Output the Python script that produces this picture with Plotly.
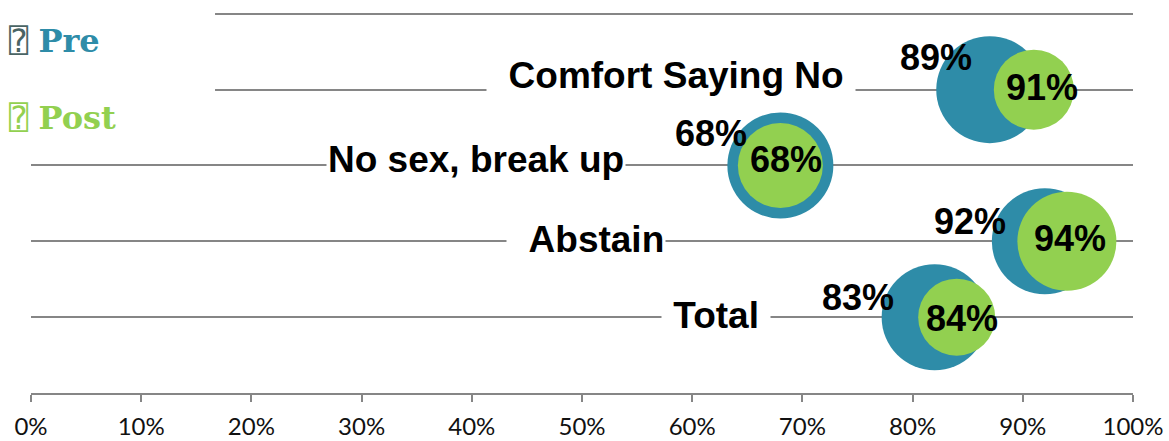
import plotly.graph_objects as go

# ---- data ----
categories = ["Comfort Saying No", "No sex, break up", "Abstain", "Total"]
cat_y = [4, 3, 2, 1]
pre_x = [0.87, 0.68, 0.92, 0.82]
post_x = [0.91, 0.68, 0.94, 0.84]
pre_labels = ["89%", "68%", "92%", "83%"]
post_labels = ["91%", "68%", "94%", "84%"]
pre_size = [107, 106, 106, 106]
post_size = [80, 85, 99, 77]
x_ticks = [0, 0.1, 0.2, 0.3, 0.4, 0.5, 0.6, 0.7, 0.8, 0.9, 1.0]
series_names = ["Pre", "Post"]

# ---- styles / layout helpers ----
PRE_COLOR = "#2E8CA8"
POST_COLOR = "#92D050"
GRID = "#868686"
BOLD = "Arial, 'Liberation Sans', sans-serif"

# label placement (x units for anchors, pixels for offsets; positive = down / right)
cat_label_right = [0.7486, 0.540, 0.5762, 0.6715]   # right edge of category label boxes
cat_label_dy = [-14, -6, -2, -2]
cat_pad_left = [2, 0, 2, 1]      # number of padding spaces in the white label box
cat_pad_right = [1, 0, 0, 1]
pre_lab_dx = [-16, -31, -37, -39]
pre_lab_dy = [-32, -32, -20, -20]
post_lab_dx = [8, 6, 3, 5]
post_lab_dy = [-2, -6, -3, 1]

fig = go.Figure()
fig.add_trace(go.Scatter(
    x=pre_x, y=cat_y, mode="markers", name=series_names[0],
    marker=dict(size=pre_size, sizemode="diameter", color=PRE_COLOR, opacity=1,
                line=dict(width=0)),
    showlegend=False, hoverinfo="skip"))
fig.add_trace(go.Scatter(
    x=post_x, y=cat_y, mode="markers", name=series_names[1],
    marker=dict(size=post_size, sizemode="diameter", color=POST_COLOR, opacity=1,
                line=dict(width=0)),
    showlegend=False, hoverinfo="skip"))

annotations = []
for i, c in enumerate(categories):
    txt = "&nbsp;" * cat_pad_left[i] + "<b>%s</b>" % c + "&nbsp;" * cat_pad_right[i]
    annotations.append(dict(
        x=cat_label_right[i], y=cat_y[i], xref="x", yref="y", text=txt,
        showarrow=False, xanchor="right", yanchor="middle", yshift=-cat_label_dy[i],
        font=dict(family=BOLD, size=37, color="#000000"),
        bgcolor="#ffffff", borderpad=1))
for i, c in enumerate(categories):
    annotations.append(dict(
        x=pre_x[i], y=cat_y[i], xref="x", yref="y", text="<b>%s</b>" % pre_labels[i],
        showarrow=False, xanchor="right", yanchor="middle",
        xshift=pre_lab_dx[i], yshift=-pre_lab_dy[i],
        font=dict(family=BOLD, size=36, color="#000000")))
    annotations.append(dict(
        x=post_x[i], y=cat_y[i], xref="x", yref="y", text="<b>%s</b>" % post_labels[i],
        showarrow=False, xanchor="center", yanchor="middle",
        xshift=post_lab_dx[i], yshift=-post_lab_dy[i],
        font=dict(family=BOLD, size=36, color="#000000")))

# legend (text)
legend_items = [(series_names[0], PRE_COLOR, "#4A6464", 41),
                (series_names[1], POST_COLOR, POST_COLOR, 118)]
for name, col, boxcol, ypx in legend_items:
    annotations.append(dict(
        x=-24 / 1102, y=1 - (ypx - 10) / 383, xref="paper", yref="paper",
        xanchor="left", yanchor="middle", showarrow=False,
        text="<span style='font-family:DejaVu Sans Mono;font-size:32px;color:%s'>⍰</span> <b>%s</b>" % (boxcol, name),
        font=dict(family="'DejaVu Serif', serif", size=32, color=col)))

fig.update_layout(
    width=1169, height=441,
    margin=dict(l=31, r=36, t=10, b=48),
    paper_bgcolor="#ffffff", plot_bgcolor="#ffffff",
    showlegend=False,
    xaxis=dict(range=[0, 1], tickvals=x_ticks, tickformat=".0%", automargin=False,
               showgrid=False, zeroline=False,
               showline=True, linecolor=GRID, linewidth=2,
               ticks="outside", ticklen=7, tickwidth=2, tickcolor=GRID,
               ticklabelstandoff=4,
               tickfont=dict(family="Lato, Carlito, sans-serif", size=24, color="#111111")),
    yaxis=dict(range=[0, 5.05], dtick=1, tick0=0, showgrid=True, gridcolor=GRID, gridwidth=2,
               automargin=False,
               zeroline=False, showticklabels=False, showline=False, fixedrange=True),
    shapes=[dict(type="rect", xref="x", yref="y", x0=0, x1=0.167, y0=3.5, y1=5.2,
                 fillcolor="#ffffff", line=dict(width=0), layer="between")],
    annotations=annotations,
)
fig.write_html("out.html", config={"displayModeBar": False},
               post_script="document.body.style.margin='0';document.body.style.overflow='hidden';")
